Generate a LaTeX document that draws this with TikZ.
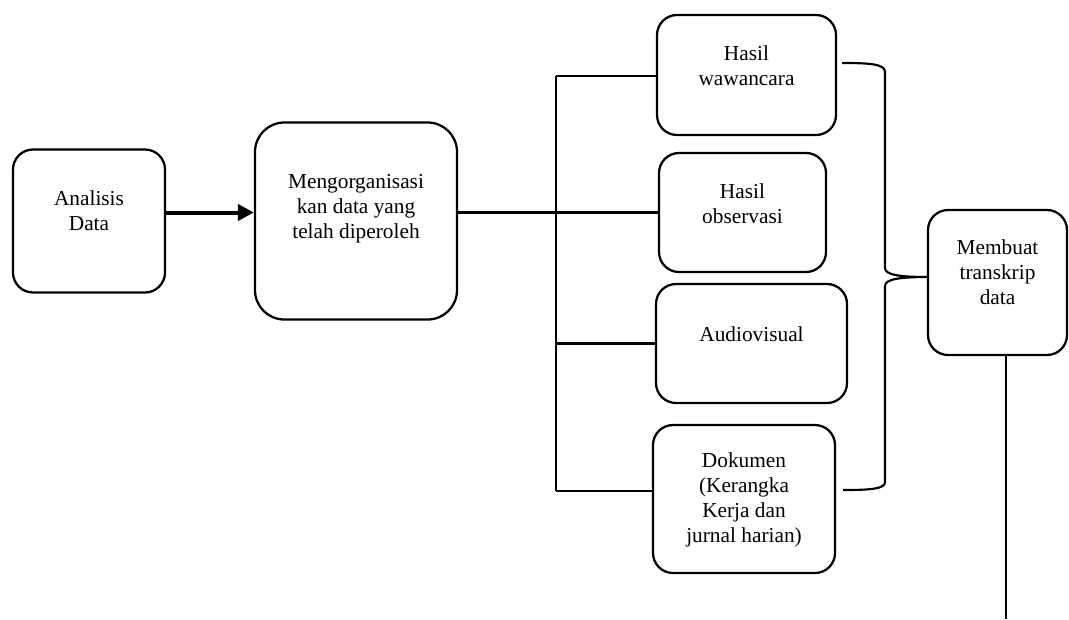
\documentclass[tikz,border=0pt]{standalone}
\usepackage{fontspec}
\setmainfont{Liberation Serif}
\usetikzlibrary{arrows.meta,calc}
\tikzset{
  box/.style={draw, line width=1.7pt, rounded corners=15pt, inner sep=0pt},
  txt/.style={align=center, font=\fontsize{16}{18.75}\selectfont},
  link/.style={line width=1.6pt},
}
\begin{document}
\begin{tikzpicture}[x=0.75pt, y=-0.75pt]
\useasboundingbox (0,0) rectangle (1069,619);
\node[box, minimum width=114pt, minimum height=107.25pt, label={[txt,yshift=8pt]center:Analisis\\Data}] (ana) at (89,221) {};
\node[box, rounded corners=22pt, minimum width=151.5pt, minimum height=147.75pt, label={[txt,yshift=9.5pt]center:Mengorganisasi\\kan data yang\\telah diperoleh}] (org) at (356,221) {};
\node[box, minimum width=134.25pt, minimum height=90pt, label={[txt,yshift=6.75pt]center:Hasil\\wawancara}] (waw) at (746.5,75) {};
\node[box, minimum width=125.25pt, minimum height=89.25pt, label={[txt,yshift=6.5pt]center:Hasil\\observasi}] (obs) at (742.5,212.5) {};
\node[box, minimum width=143.25pt, minimum height=89.25pt, label={[txt,yshift=7pt]center:Audiovisual}] (aud) at (751.5,343.5) {};
\node[box, minimum width=136.5pt, minimum height=111pt, label={[txt,yshift=-1pt]center:Dokumen\\(Kerangka\\Kerja dan\\jurnal harian)}] (dok) at (744,499) {};
\node[box, minimum width=104.25pt, minimum height=108.75pt, label={[txt,yshift=7.5pt]center:Membuat\\transkrip\\data}] (mem) at (997.5,282.5) {};
\coordinate (spTop) at (556,76);
\coordinate (spBot) at (556,491);
\coordinate (brTop) at (842,63);
\coordinate (brBot) at (843,490);
\coordinate (brTip) at (928,277);
\coordinate (down) at (1006,619);
\draw[line width=3pt, -{Triangle[length=12pt,width=12pt]}] (ana.east |- obs.west) -- (org.west |- obs.west);
\draw[link] (obs.west -| org.east) -- (obs.west);
\draw[link] (spTop) -- (spBot);
\draw[link] (spTop) -- (spTop -| waw.west);
\draw[link] (aud.west -| spTop) -- (aud.west);
\draw[link] (spBot) -- (spBot -| dok.west);
\draw[link] (brTop) .. controls (870,63) and (885,64) .. (885,72) -- (885,268)
  .. controls (885,275) and (900,277) .. (brTip)
  .. controls (900,277) and (885,279) .. (885,286) -- (885,482)
  .. controls (885,489) and (870,490) .. (brBot);
\draw[link] (mem.south -| down) -- (down);
\end{tikzpicture}
\end{document}
